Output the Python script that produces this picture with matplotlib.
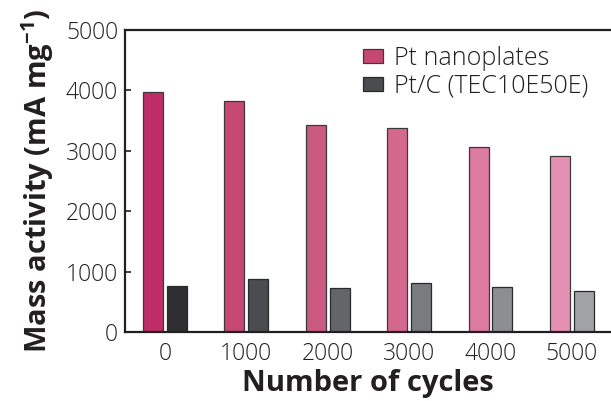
import numpy as np
import matplotlib
matplotlib.use("Agg")
import matplotlib.pyplot as plt
from matplotlib.patches import Patch

plt.rcParams['font.family'] = ['Open Sans', 'DejaVu Sans']

# data
cycles = ['0', '1000', '2000', '3000', '4000', '5000']
pt_nanoplates = [3980, 3830, 3420, 3385, 3065, 2920]
pt_c = [760, 875, 728, 810, 750, 675]

pink_colors = ['#be2d66', '#c64872', '#cb5a80', '#d3678c', '#dd7b9e', '#e58fb2']
gray_colors = ['#2f2f31', '#4a4c4f', '#646568', '#7a7b7f', '#8d8e92', '#a1a2a6']

fig = plt.figure(figsize=(6.11, 4.01), dpi=100)
ax = fig.add_axes([0.2046, 0.172, 0.7954, 0.753])

x = np.arange(len(cycles))
w = 0.246
off = 0.147
ax.bar(x - off, pt_nanoplates, width=w, color=pink_colors, edgecolor='#3a3a3a', linewidth=0.9)
ax.bar(x + off, pt_c, width=w, color=gray_colors, edgecolor='#2a2a2a', linewidth=0.9)

ax.set_xlim(-0.49, 5.48)
ax.set_ylim(0, 5000)
ax.set_yticks([0, 1000, 2000, 3000, 4000, 5000])
ax.set_xticks(x)
ax.set_xticklabels(cycles)

ax.spines['right'].set_visible(False)
for s in ['left', 'bottom', 'top']:
    ax.spines[s].set_linewidth(1.6)
    ax.spines[s].set_color('#231f20')

ax.tick_params(axis='y', direction='in', length=4, width=1.2, labelsize=16.5, colors='#231f20', pad=5)
ax.tick_params(axis='x', length=0, labelsize=16.5, colors='#231f20', pad=7)
for lbl in ax.get_xticklabels() + ax.get_yticklabels():
    lbl.set_fontweight('light')

ax.set_xlabel('Number of cycles', fontsize=21, fontweight='bold', color='#231f20', labelpad=2)
ax.set_ylabel('Mass activity (mA mg$^{\\mathregular{-1}}$)', fontsize=21, fontweight='bold',
              color='#231f20', labelpad=7.5)

handles = [Patch(facecolor='#c64872', edgecolor='#3a3a3a', linewidth=0.9, label='Pt nanoplates'),
           Patch(facecolor='#4a4c4f', edgecolor='#2a2a2a', linewidth=0.9, label='Pt/C (TEC10E50E)')]
leg = ax.legend(handles=handles, loc='upper right', bbox_to_anchor=(1.0, 1.022), frameon=False,
                fontsize=18, handlelength=0.8, handleheight=0.5, handletextpad=0.45, labelspacing=0.12,
                labelcolor='#231f20')
for t in leg.get_texts():
    t.set_fontweight('light')

fig.savefig('out.png', dpi=100)
